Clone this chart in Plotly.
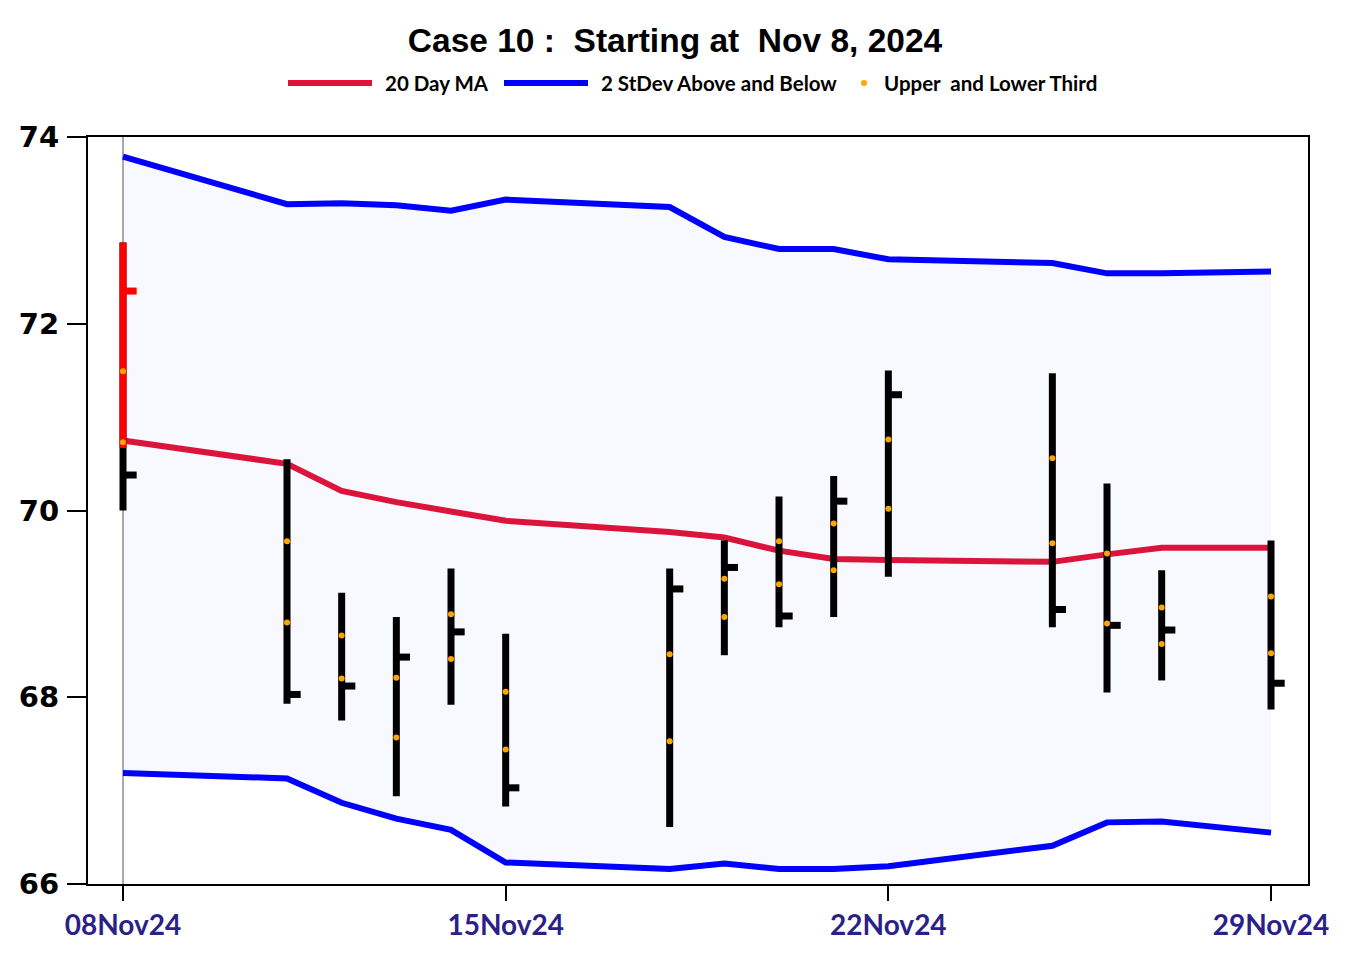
import pandas as pd
import plotly.graph_objects as go

# ---------------- data ----------------
dates = ["2024-11-08", "2024-11-11", "2024-11-12", "2024-11-13", "2024-11-14",
         "2024-11-15", "2024-11-18", "2024-11-19", "2024-11-20", "2024-11-21",
         "2024-11-22", "2024-11-25", "2024-11-26", "2024-11-27", "2024-11-29"]
high = [72.87, 70.55, 69.12, 68.86, 69.38, 68.68, 69.38, 69.68, 70.15, 70.37,
        71.50, 71.47, 70.29, 69.36, 69.68]
low = [70.00, 67.93, 67.75, 66.94, 67.92, 66.83, 66.61, 68.45, 68.75, 68.86,
       69.29, 68.75, 68.05, 68.18, 67.87]
close = [70.38, 68.03, 68.12, 68.43, 68.70, 67.03, 69.16, 69.39, 68.87, 70.10,
         71.24, 68.94, 68.77, 68.72, 68.15]
upper_third = [71.49, 69.67, 68.66, 68.21, 68.89, 68.06, 68.46, 69.27, 69.67, 69.86,
               70.76, 70.56, 69.54, 68.96, 69.08]
lower_third = [70.73, 68.80, 68.20, 67.57, 68.41, 67.44, 67.53, 68.86, 69.21, 69.36,
               70.02, 69.65, 68.79, 68.57, 68.47]
ma20 = [70.75, 70.50, 70.21, 70.09, 69.99, 69.89, 69.77, 69.71, 69.57, 69.48,
        69.47, 69.45, 69.53, 69.60, 69.60]
upper_band = [73.79, 73.28, 73.29, 73.27, 73.21, 73.33, 73.25, 72.93, 72.80, 72.80,
              72.69, 72.65, 72.54, 72.54, 72.56]
lower_band = [67.19, 67.13, 66.87, 66.70, 66.58, 66.23, 66.16, 66.22, 66.16, 66.16,
              66.19, 66.41, 66.66, 66.67, 66.55]

# first day's red (above-range) portion of the bar
red_date = "2024-11-08"
red_high = 72.87
red_low = 70.67
red_close = 72.35

tick_labels = ["08Nov24", "15Nov24", "22Nov24", "29Nov24"]
tick_dates = ["2024-11-08", "2024-11-15", "2024-11-22", "2024-11-29"]
y_ticks = [66, 68, 70, 72, 74]
y_range = [66, 74]
x_range = ["2024-11-07 08:38", "2024-11-29 16:14"]

title_text = "Case 10 :  Starting at  Nov 8, 2024"
legend_labels = ["20 Day MA", "2 StDev Above and Below", "Upper  and Lower Third"]

# ---------------- styles ----------------
C_MA = "#DC143C"
C_BAND = "#0000FF"
C_FILL = "#F8F8FF"
C_DOT = "#FFA500"
C_TICK = "#2B1F88"
tick_off = pd.Timedelta(hours=6)


def keep_spaces(s):
    # SVG collapses runs of spaces; keep the double spaces visible
    return s.replace("  ", " \u00a0")


fig = go.Figure()

# band fill
fig.add_trace(go.Scatter(x=dates, y=lower_band, mode="lines", line=dict(width=0),
                         hoverinfo="skip", showlegend=False))
fig.add_trace(go.Scatter(x=dates, y=upper_band, mode="lines", line=dict(width=0),
                         fill="tonexty", fillcolor=C_FILL, hoverinfo="skip",
                         showlegend=False))

# gray vertical line at first date
fig.add_trace(go.Scatter(x=[dates[0], dates[0]], y=y_range, mode="lines",
                         line=dict(color="#8C8C8C", width=1.5),
                         hoverinfo="skip", showlegend=False))

# band lines and MA
fig.add_trace(go.Scatter(x=dates, y=upper_band, mode="lines",
                         line=dict(color=C_BAND, width=6), showlegend=False))
fig.add_trace(go.Scatter(x=dates, y=lower_band, mode="lines",
                         line=dict(color=C_BAND, width=6), showlegend=False))
fig.add_trace(go.Scatter(x=dates, y=ma20, mode="lines",
                         line=dict(color=C_MA, width=6), showlegend=False))

# HLC bars (black)
bx, by = [], []
for d, h, l, c in zip(dates, high, low, close):
    t = pd.Timestamp(d)
    bx += [t, t, None, t, t + tick_off, None]
    by += [l, h, None, c, c, None]
fig.add_trace(go.Scatter(x=bx, y=by, mode="lines",
                         line=dict(color="black", width=7), hoverinfo="skip",
                         showlegend=False))

# red portion of first bar
rt = pd.Timestamp(red_date)
fig.add_trace(go.Scatter(x=[rt, rt, None, rt, rt + tick_off],
                         y=[red_low, red_high, None, red_close, red_close],
                         mode="lines", line=dict(color="#FF0000", width=7),
                         hoverinfo="skip", showlegend=False))

# thirds dots
fig.add_trace(go.Scatter(x=dates + dates, y=upper_third + lower_third, mode="markers",
                         marker=dict(color=C_DOT, size=6), showlegend=False))

# ---------------- manual legend ----------------
PL, PR, PT, PB = 88, 1308, 137, 884   # plot area in page pixels


def px_x(p):
    return (p - PL) / (PR - PL)


def px_y(p):
    return (PB - p) / (PB - PT)


ly = px_y(83)
shapes = [
    dict(type="line", xref="paper", yref="paper", x0=px_x(288), x1=px_x(372),
         y0=ly, y1=ly, line=dict(color=C_MA, width=6)),
    dict(type="line", xref="paper", yref="paper", x0=px_x(504), x1=px_x(588),
         y0=ly, y1=ly, line=dict(color=C_BAND, width=6)),
    dict(type="circle", xref="paper", yref="paper", xsizemode="pixel",
         ysizemode="pixel", xanchor=px_x(864), yanchor=ly, x0=-3, x1=3, y0=-3, y1=3,
         fillcolor=C_DOT, line=dict(width=0)),
]
ann = []
for xpx, txt in zip([383, 599, 882], legend_labels):
    ann.append(dict(x=px_x(xpx), y=ly, xref="paper", yref="paper", xanchor="left",
                    yanchor="middle", showarrow=False, text=keep_spaces(txt),
                    font=dict(family="Lato, Open Sans, sans-serif", size=20.5,
                              color="black", weight="bold")))

# page has an 8px body margin
OFF = 8
fig.update_layout(
    width=1350, height=975,
    paper_bgcolor="white", plot_bgcolor="white",
    margin=dict(l=PL - OFF, r=1350 - (PR - OFF), t=PT - OFF, b=975 - (PB - OFF)),
    title=dict(text=keep_spaces(title_text), x=(675 - OFF) / 1350, xanchor="center",
               y=1 - (40 - OFF) / 975, yanchor="middle",
               font=dict(family="Liberation Sans, sans-serif",
                         size=33.5, color="black", weight="bold")),
    shapes=shapes, annotations=ann, showlegend=False,
)
fig.update_xaxes(type="date", range=x_range, tickvals=tick_dates, ticktext=tick_labels,
                 ticks="outside", ticklen=15, tickwidth=2, tickcolor="black",
                 showline=True, linewidth=2, linecolor="black", mirror=True,
                 showgrid=False, zeroline=False,
                 tickfont=dict(family="Lato, Open Sans, sans-serif", size=28,
                               color=C_TICK, weight="bold"))
fig.update_yaxes(range=y_range, tickvals=y_ticks, ticks="outside", ticklen=19,
                 tickwidth=2, tickcolor="black", showline=True, linewidth=2,
                 linecolor="black", mirror=True, showgrid=False, zeroline=False,
                 ticklabelstandoff=2,
                 tickfont=dict(family="DejaVu Sans, sans-serif", size=29,
                               color="black", weight="bold"))

fig.write_html("out.html")
